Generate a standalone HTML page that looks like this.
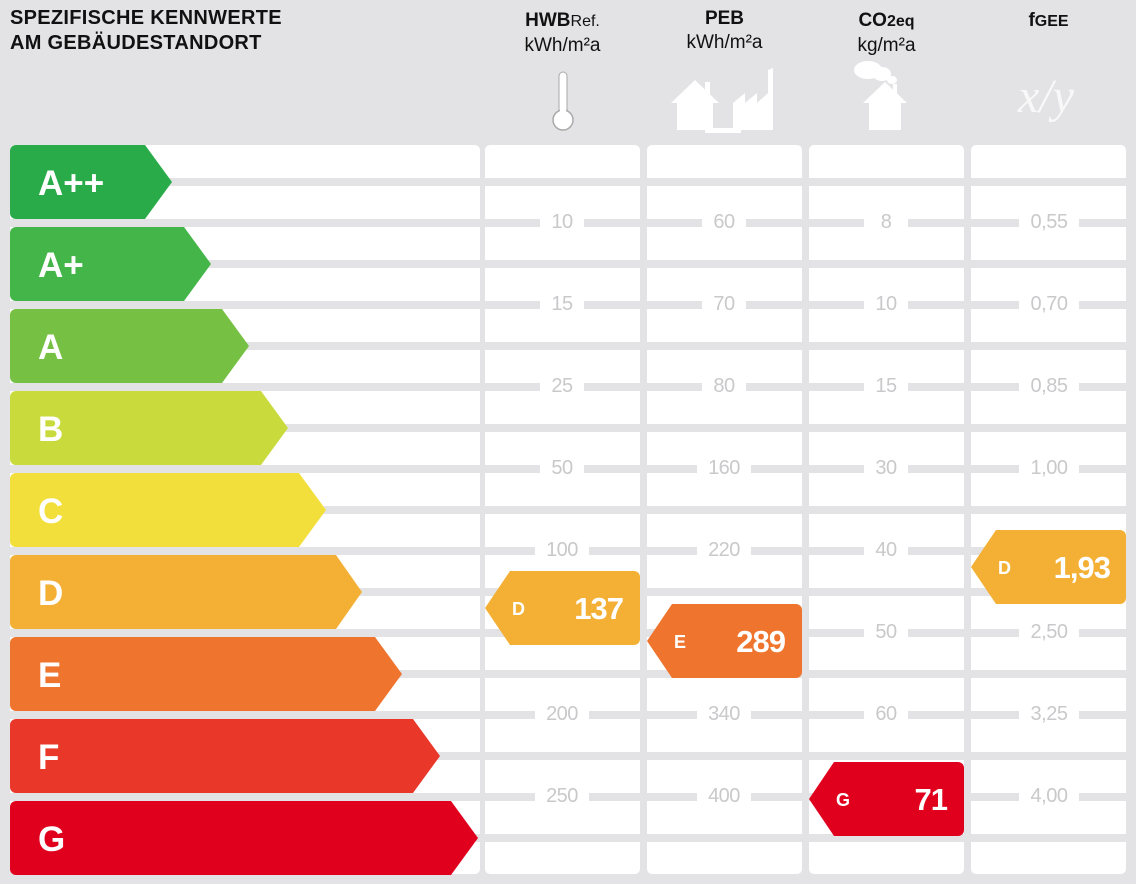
<!DOCTYPE html>
<html><head><meta charset="utf-8"><style>
body{margin:0;width:1136px;height:884px;background:#e3e3e5;position:relative;overflow:hidden;font-family:"Liberation Sans",Arial,sans-serif}
.col{position:absolute;top:145px;height:729px;background:repeating-linear-gradient(to bottom,#fff 0,#fff 33px,transparent 33px,transparent 41px);border-radius:5px}
.lab{position:absolute;width:44px;height:18px;background:#fff;color:#c9c9cb;font-size:20px;line-height:18px;text-align:center;letter-spacing:-0.5px}
.h{position:absolute;text-align:center;font-size:19px;color:#111;line-height:24px}
</style></head><body>
<div style="position:absolute;left:10px;top:6px;font-size:20px;font-weight:bold;line-height:25px;letter-spacing:0.3px;color:#111">SPEZIFISCHE KENNWERTE<br>AM GEBÄUDESTANDORT</div>
<div class="h" style="left:485px;width:155px;top:9px"><b>HWB</b><span style="font-size:16px">Ref.</span><br>kWh/m²a</div>
<div class="h" style="left:647px;width:155px;top:7px"><b>PEB</b><br>kWh/m²a</div>
<div class="h" style="left:809px;width:155px;top:9px"><b>CO<span style="font-size:16px">2eq</span></b><br>kg/m²a</div>
<div class="h" style="left:971px;width:155px;top:9px"><b>f<span style="font-size:16px">GEE</span></b></div>

<div class="col" style="left:10px;width:470px"></div>
<div class="col" style="left:485px;width:155px"></div>
<div class="col" style="left:647px;width:155px"></div>
<div class="col" style="left:809px;width:155px"></div>
<div class="col" style="left:971px;width:155px"></div>

<svg width="1136" height="884" style="position:absolute;left:0;top:0" font-family="Liberation Sans, Arial, sans-serif">
<g>
<rect x="559" y="72" width="8" height="46" rx="4" fill="#fff" stroke="#aaa" stroke-width="1"/>
<circle cx="563" cy="120" r="10" fill="#fff" stroke="#aaa" stroke-width="1.5"/>
<rect x="560" y="100" width="6" height="22" fill="#fff"/>
</g>
<g fill="#fff">
<polygon points="671,103 695,80 719,103 713,103 713,130 677,130 677,103"/>
<rect x="705" y="82" width="5" height="14"/>
<polygon points="733,130 733,103 745,93 745,103 757,93 757,103 768,93 768,70 773,68 773,130"/>
<rect x="705" y="128" width="36" height="5"/>
<polygon points="863,103 885,82 907,103 901,103 901,130 869,130 869,103"/>
<rect x="893" y="84" width="4" height="12"/>
<ellipse cx="868" cy="70" rx="14" ry="9"/><ellipse cx="882" cy="74" rx="9" ry="7"/><ellipse cx="892" cy="80" rx="5" ry="4"/>
</g>
<text x="1046" y="112" font-family="Liberation Serif, serif" font-style="italic" font-size="48" fill="#f8f8f8" text-anchor="middle">x/y</text>

<g font-weight="bold" font-size="35" fill="#fff">
<path d="M10,151 a6,6 0 0 1 6,-6 H145 L172,182 L145,219 H16 a6,6 0 0 1 -6,-6Z" fill="#2aab4a"/>
<path d="M10,233 a6,6 0 0 1 6,-6 H184 L211,264 L184,301 H16 a6,6 0 0 1 -6,-6Z" fill="#44b649"/>
<path d="M10,315 a6,6 0 0 1 6,-6 H222 L249,346 L222,383 H16 a6,6 0 0 1 -6,-6Z" fill="#76c043"/>
<path d="M10,397 a6,6 0 0 1 6,-6 H261 L288,428 L261,465 H16 a6,6 0 0 1 -6,-6Z" fill="#c9db3c"/>
<path d="M10,479 a6,6 0 0 1 6,-6 H299 L326,510 L299,547 H16 a6,6 0 0 1 -6,-6Z" fill="#f2df3b"/>
<path d="M10,561 a6,6 0 0 1 6,-6 H336 L362,592 L336,629 H16 a6,6 0 0 1 -6,-6Z" fill="#f3b034"/>
<path d="M10,643 a6,6 0 0 1 6,-6 H375 L402,674 L375,711 H16 a6,6 0 0 1 -6,-6Z" fill="#ef752e"/>
<path d="M10,725 a6,6 0 0 1 6,-6 H413 L440,756 L413,793 H16 a6,6 0 0 1 -6,-6Z" fill="#e9382a"/>
<path d="M10,807 a6,6 0 0 1 6,-6 H451 L478,838 L451,875 H16 a6,6 0 0 1 -6,-6Z" fill="#e0001e"/>
<text x="38" y="195">A++</text><text x="38" y="277">A+</text><text x="38" y="359">A</text>
<text x="38" y="441">B</text><text x="38" y="523">C</text><text x="38" y="605">D</text>
<text x="38" y="687">E</text><text x="38" y="769">F</text><text x="38" y="851">G</text>
</g>
</svg>

<div class="lab" style="left:540px;top:213px">10</div><div class="lab" style="left:702px;top:213px">60</div><div class="lab" style="left:864px;top:213px">8</div><div class="lab" style="left:1019px;top:213px;width:60px">0,55</div>
<div class="lab" style="left:540px;top:295px">15</div><div class="lab" style="left:702px;top:295px">70</div><div class="lab" style="left:864px;top:295px">10</div><div class="lab" style="left:1019px;top:295px;width:60px">0,70</div>
<div class="lab" style="left:540px;top:377px">25</div><div class="lab" style="left:702px;top:377px">80</div><div class="lab" style="left:864px;top:377px">15</div><div class="lab" style="left:1019px;top:377px;width:60px">0,85</div>
<div class="lab" style="left:540px;top:459px">50</div><div class="lab" style="left:697px;top:459px;width:54px">160</div><div class="lab" style="left:864px;top:459px">30</div><div class="lab" style="left:1019px;top:459px;width:60px">1,00</div>
<div class="lab" style="left:535px;top:541px;width:54px">100</div><div class="lab" style="left:697px;top:541px;width:54px">220</div><div class="lab" style="left:864px;top:541px">40</div>
<div class="lab" style="left:864px;top:623px">50</div><div class="lab" style="left:1019px;top:623px;width:60px">2,50</div>
<div class="lab" style="left:535px;top:705px;width:54px">200</div><div class="lab" style="left:697px;top:705px;width:54px">340</div><div class="lab" style="left:864px;top:705px">60</div><div class="lab" style="left:1019px;top:705px;width:60px">3,25</div>
<div class="lab" style="left:535px;top:787px;width:54px">250</div><div class="lab" style="left:697px;top:787px;width:54px">400</div><div class="lab" style="left:1019px;top:787px;width:60px">4,00</div>

<svg width="1136" height="884" style="position:absolute;left:0;top:0" font-family="Liberation Sans, Arial, sans-serif" font-weight="bold" fill="#fff">
<path d="M510,571 H634 a6,6 0 0 1 6,6 V639 a6,6 0 0 1 -6,6 H510 L485,608Z" fill="#f3b034"/>
<text x="512" y="615" font-size="18">D</text><text x="623" y="619" font-size="31" text-anchor="end" letter-spacing="-1">137</text>
<path d="M672,604 H796 a6,6 0 0 1 6,6 V672 a6,6 0 0 1 -6,6 H672 L647,641Z" fill="#ef752e"/>
<text x="674" y="648" font-size="18">E</text><text x="785" y="652" font-size="31" text-anchor="end" letter-spacing="-1">289</text>
<path d="M834,762 H958 a6,6 0 0 1 6,6 V830 a6,6 0 0 1 -6,6 H834 L809,799Z" fill="#e0001e"/>
<text x="836" y="806" font-size="18">G</text><text x="947" y="810" font-size="31" text-anchor="end" letter-spacing="-1">71</text>
<path d="M996,530 H1120 a6,6 0 0 1 6,6 V598 a6,6 0 0 1 -6,6 H996 L971,567Z" fill="#f3b034"/>
<text x="998" y="574" font-size="18">D</text><text x="1110" y="578" font-size="31" text-anchor="end" letter-spacing="-1">1,93</text>
</svg>
</body></html>
